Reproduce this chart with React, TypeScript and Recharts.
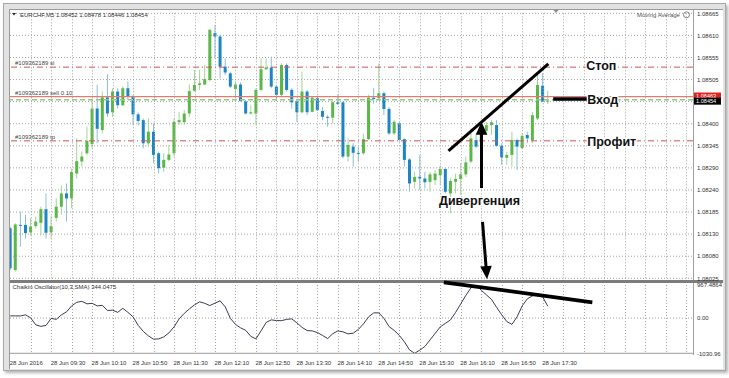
import React from "react";
import {
  ComposedChart,
  Bar,
  Line,
  XAxis,
  YAxis,
  CartesianGrid,
  ReferenceLine,
  ReferenceDot,
} from "recharts";

// ---------- DATA (EURCHF, M5, 28 Jun 2016, 08:50 .. 17:35) ----------
const opens = [
  1.08146, 1.08045, 1.08154, 1.08154, 1.08136, 1.08151, 1.08159, 1.08192, 1.08136, 1.08171,
  1.08198, 1.0823, 1.08218, 1.08278, 1.08307, 1.08327, 1.08349, 1.08435, 1.08383, 1.08462,
  1.08426, 1.08476, 1.08443, 1.08484, 1.08464, 1.08421, 1.08407, 1.08351, 1.08379, 1.08327,
  1.08292, 1.08311, 1.08327, 1.08402, 1.08402, 1.08423, 1.08478, 1.08492, 1.08493, 1.08504,
  1.08617, 1.08609, 1.08536, 1.0852, 1.08482, 1.08493, 1.08452, 1.08423, 1.08423, 1.0848,
  1.0853, 1.08534, 1.08488, 1.08468, 1.0854, 1.0848, 1.08452, 1.08426, 1.08476, 1.08427,
  1.0846, 1.08429, 1.08415, 1.08413, 1.0845, 1.0845, 1.08319, 1.08343, 1.08328, 1.08327,
  1.08361, 1.08461, 1.0846, 1.08472, 1.08434, 1.08375, 1.08399, 1.08361, 1.08312, 1.08258,
  1.0827, 1.08266, 1.08258, 1.08262, 1.08274, 1.08289, 1.0823, 1.08258, 1.08265, 1.08276,
  1.08307, 1.08359, 1.08359, 1.08381, 1.08395, 1.08395, 1.08345, 1.08316, 1.08323, 1.08359,
  1.0834, 1.08371, 1.08359, 1.08411, 1.0849, 1.08452,
];
const highs = [
  1.0815, 1.08158, 1.08186, 1.08178, 1.08171, 1.08174, 1.08198, 1.0823, 1.08176, 1.08218,
  1.08249, 1.08254, 1.0829, 1.08363, 1.08331, 1.08391, 1.08458, 1.08492, 1.08476, 1.08518,
  1.08484, 1.08484, 1.08489, 1.08501, 1.08468, 1.08426, 1.08411, 1.08411, 1.08399, 1.08331,
  1.08327, 1.08347, 1.08411, 1.08427, 1.08431, 1.08493, 1.08528, 1.08528, 1.0854, 1.08627,
  1.08637, 1.08613, 1.08556, 1.08524, 1.085, 1.08498, 1.08456, 1.08443, 1.08484, 1.08556,
  1.08556, 1.0856, 1.08492, 1.08544, 1.08544, 1.08484, 1.08456, 1.08524, 1.0848, 1.08464,
  1.08464, 1.08439, 1.08419, 1.08453, 1.08469, 1.08452, 1.08363, 1.08351, 1.08343, 1.08375,
  1.08468, 1.08485, 1.08544, 1.08476, 1.08439, 1.08407, 1.08403, 1.08363, 1.08315, 1.08282,
  1.08323, 1.08282, 1.08282, 1.08286, 1.08298, 1.08292, 1.08266, 1.08278, 1.08303, 1.08319,
  1.08387, 1.08371, 1.08397, 1.08403, 1.08407, 1.08407, 1.08351, 1.08331, 1.08379, 1.08363,
  1.08375, 1.08379, 1.08427, 1.08516, 1.0852, 1.08478,
];
const lows = [
  1.08045, 1.08041, 1.08101, 1.08121, 1.08128, 1.08146, 1.08128, 1.08121, 1.08121, 1.08162,
  1.08178, 1.08162, 1.08194, 1.08266, 1.08295, 1.08323, 1.08339, 1.08351, 1.08375, 1.08415,
  1.08415, 1.08435, 1.08441, 1.08456, 1.08395, 1.08394, 1.08339, 1.08343, 1.08303, 1.08278,
  1.08282, 1.08307, 1.08319, 1.08395, 1.08395, 1.08415, 1.08476, 1.0848, 1.08492, 1.085,
  1.08556, 1.08508, 1.08516, 1.08484, 1.0846, 1.08452, 1.08421, 1.08421, 1.08395, 1.08476,
  1.08528, 1.08484, 1.08453, 1.08464, 1.08476, 1.08435, 1.08403, 1.08423, 1.08419, 1.08426,
  1.08429, 1.08407, 1.08391, 1.08399, 1.08443, 1.08315, 1.08307, 1.08295, 1.08307, 1.08323,
  1.08359, 1.08447, 1.08456, 1.08419, 1.08371, 1.08371, 1.08355, 1.08295, 1.08234, 1.08242,
  1.08238, 1.08242, 1.08234, 1.0825, 1.0825, 1.0823, 1.08182, 1.0823, 1.08226, 1.0827,
  1.08303, 1.08339, 1.08355, 1.08371, 1.08371, 1.08343, 1.08299, 1.08299, 1.08295, 1.08287,
  1.08337, 1.08351, 1.08351, 1.08407, 1.0845, 1.08446,
];
const closes = [
  1.08049, 1.08155, 1.08152, 1.08134, 1.0815, 1.08162, 1.08192, 1.08135, 1.08151, 1.08198,
  1.0823, 1.08218, 1.08282, 1.08308, 1.08319, 1.08357, 1.08435, 1.08386, 1.08462, 1.08423,
  1.08476, 1.08443, 1.08484, 1.08464, 1.08421, 1.08405, 1.08351, 1.08379, 1.08323, 1.08291,
  1.08311, 1.08324, 1.08403, 1.08407, 1.08423, 1.08477, 1.08492, 1.08496, 1.08506, 1.08625,
  1.08609, 1.08536, 1.08522, 1.08488, 1.08493, 1.08453, 1.08423, 1.08426, 1.0848, 1.0853,
  1.08534, 1.08488, 1.08468, 1.0854, 1.0848, 1.0845, 1.08426, 1.08476, 1.08426, 1.08461,
  1.08431, 1.08415, 1.08413, 1.0845, 1.08446, 1.08319, 1.08347, 1.08328, 1.08327, 1.08361,
  1.08461, 1.08458, 1.08472, 1.08434, 1.08375, 1.08403, 1.08359, 1.08311, 1.08254, 1.0827,
  1.08266, 1.08257, 1.08276, 1.08278, 1.08289, 1.08234, 1.0826, 1.08265, 1.08276, 1.08305,
  1.08363, 1.08343, 1.08381, 1.08395, 1.08402, 1.08345, 1.08317, 1.08323, 1.08359, 1.08343,
  1.08369, 1.08363, 1.08419, 1.08492, 1.08452, 1.08454,
];
const chaikin = [
  64, 64, 64, 94, 6, -199, -243, -214, -9, -38,
  94, 182, 357, 460, 489, 416, 431, 357, 372, 220,
  231, 167, 284, 167, 35, -214, -390, -522, -618, -609,
  -551, -434, -258, -23, 138, 270, 387, 475, 431, 366,
  437, 504, 328, -9, -185, -287, -360, -536, -609, -375,
  -126, -53, -73, -76, -38, -23, -141, -272, -366, -375,
  -425, -507, -601, -457, -375, -404, -463, -442, -331, -170,
  35, 152, 152, -9, -249, -360, -507, -697, -932, -1030.96,
  -938, -829, -639, -448, -258, -155, -53, 167, 416, 665,
  885, 967.4864, 812, 680, 548, 314, 94, -103, -185, 35,
  357, 563, 650, 709, 621, 344.0475,
];

const priceTicks = [
  1.08665, 1.086117, 1.085583, 1.08505, 1.084517, 1.083983, 1.08345,
  1.082917, 1.082383, 1.08185, 1.081317, 1.080783, 1.08025,
];
const priceTickLabels = [
  "1.08665", "1.08610", "1.08555", "1.08505", "", "1.08400", "1.08345",
  "1.08290", "1.08240", "1.08185", "1.08130", "1.08080", "1.08025",
];
const oscTicks = [967.4864, 0, -1030.96];
const oscTickLabels = ["967.4864", "0.00", "-1030.96"];

const gridBars = [
  4, 8, 12, 16, 20, 24, 28, 32, 36, 40, 44, 48, 52, 56, 60, 64, 68, 72, 76, 80,
  84, 88, 92, 96, 100, 104, 108, 112, 116, 120, 124, 128, 132,
];
const timeTickBars = [0, 8, 16, 24, 32, 40, 48, 56, 64, 72, 80, 88, 96, 104];
const timeTickLabels = [
  "28 Jun 2016", "28 Jun 09:30", "28 Jun 10:10", "28 Jun 10:50", "28 Jun 11:30",
  "28 Jun 12:10", "28 Jun 12:50", "28 Jun 13:30", "28 Jun 14:10", "28 Jun 14:50",
  "28 Jun 15:30", "28 Jun 16:10", "28 Jun 16:50", "28 Jun 17:30",
];

const stopPrice = 1.08535;
const askPrice = 1.08464;
const orderPrice = 1.08456;
const tpPrice = 1.08357;
const bidPrice = 1.08454;

// annotations (bar index, price / oscillator value)
const trendTop = [{ bar: 85.6, price: 1.08333 }, { bar: 105.1, price: 1.08543 }];
const entryMark = [{ bar: 106.05, price: 1.08458 }, { bar: 112.65, price: 1.08458 }];
const arrowUp = [{ bar: 92.05, price: 1.08243 }, { bar: 92.05, price: 1.08403 }];
const arrowDown = [{ bar: 92.25, price: 1.08161 }, { bar: 93.13, price: 1.08023 }];
const oscTrend = [{ bar: 84.7, value: 1047 }, { bar: 113.7, value: 461 }];
const annoTexts = [
  { text: "Стоп", bar: 112.5, price: 1.0854 },
  { text: "Вход", bar: 112.7, price: 1.08458 },
  { text: "Профит", bar: 112.7, price: 1.08356 },
  { text: "Дивергенция", bar: 83.75, price: 1.08212 },
];

const candleData = opens.map((o, i) => ({
  bar: i,
  open: o,
  high: highs[i],
  low: lows[i],
  close: closes[i],
  range: [lows[i], highs[i]],
}));
const oscData = chaikin.map((v, i) => ({ bar: i, chaikin: v }));

// ---------- LAYOUT ----------
const X_DOMAIN: [number, number] = [-0.04, 133.36];
const PRICE_DOMAIN: [number, number] = [1.08025, 1.08665];
const OSC_DOMAIN: [number, number] = [-1030.96, 967.4864];
const FONT = "'Liberation Sans', Arial, sans-serif";
const SMALL = 6;
const GRID = "#a4a4a4";

function Candle(props: any) {
  const { x, y, width, height, payload } = props;
  if (x == null || !payload) return null;
  const { open, close, high, low } = payload;
  const up = close >= open;
  const top = Math.min(y, y + height);
  const h = Math.abs(height);
  const k = h / (high - low || 1e-9);
  const yO = top + (high - open) * k;
  const yC = top + (high - close) * k;
  const cx = x + width / 2;
  const bt = Math.min(yO, yC);
  const bh = Math.max(Math.abs(yO - yC), 1);
  return (
    <g>
      <line x1={cx} x2={cx} y1={top} y2={top + h} stroke={up ? "#a3d497" : "#8abdd9"} strokeWidth={1} />
      <rect x={cx - 1.5} y={bt} width={3} height={bh} fill={up ? "#5ab748" : "#1c86c5"} />
    </g>
  );
}

// vertical dotted grid line, snapped to whole pixels
function VGridShape(props: any) {
  const { x1, y1, y2 } = props;
  const x = Math.round(Number(x1)) + 0.5;
  const top = Math.min(Number(y1), Number(y2));
  const bottom = Math.max(Number(y1), Number(y2));
  return (
    <path
      d={`M${x},${top}V${bottom}`}
      stroke={GRID}
      strokeWidth={1}
      strokeDasharray="1 2"
      fill="none"
    />
  );
}

function nearestIndex(arr: number[], v: number) {
  let best = 0;
  for (let i = 1; i < arr.length; i++) if (Math.abs(arr[i] - v) < Math.abs(arr[best] - v)) best = i;
  return best;
}

function PriceTick(props: any) {
  const { y, payload } = props;
  const label = priceTickLabels[nearestIndex(priceTicks, payload.value)];
  if (!label) return null;
  return (
    <text x={687} y={y} dy={2.2} fontSize={SMALL} fill="#333" fontFamily={FONT}>
      {label}
    </text>
  );
}

function OscTick(props: any) {
  const { y, payload } = props;
  const label = oscTickLabels[nearestIndex(oscTicks, payload.value)];
  return (
    <text x={687} y={y} dy={2.2} fontSize={SMALL} fill="#333" fontFamily={FONT}>
      {label}
    </text>
  );
}

function TimeTick(props: any) {
  const { x, payload } = props;
  const i = timeTickBars.indexOf(payload.value);
  if (i < 0) return null;
  return (
    <text x={x - 0.5} y={85.5} fontSize={SMALL} fill="#333" fontFamily={FONT} textAnchor="start">
      {timeTickLabels[i]}
    </text>
  );
}

function ArrowShape(props: any) {
  const { x1, y1, x2, y2 } = props;
  const dx = x2 - x1;
  const dy = y2 - y1;
  const len = Math.sqrt(dx * dx + dy * dy) || 1;
  const ux = dx / len;
  const uy = dy / len;
  const hl = 13;
  const hw = 5.8;
  const bx = x2 - ux * hl;
  const by = y2 - uy * hl;
  const px = -uy;
  const py = ux;
  return (
    <g>
      <line x1={x1} y1={y1} x2={bx + ux * 2} y2={by + uy * 2} stroke="#000" strokeWidth={3} />
      <polygon
        points={`${x2},${y2} ${bx + px * hw},${by + py * hw} ${bx - px * hw},${by - py * hw}`}
        fill="#000"
      />
    </g>
  );
}

const orderLabel = (text: string) => (props: any) => {
  const vb = props.viewBox || {};
  return (
    <text x={(vb.x || 0) + 5} y={(vb.y || 0) - 2} fontSize={SMALL} fill="#444" fontFamily={FONT}>
      {text}
    </text>
  );
};

const axisBox = (text: string, color: string, boxTop: number, boxH: number, baseline: number) => (props: any) => {
  const vb = props.viewBox || {};
  const x = (vb.x || 0) + (vb.width || 0) + 1;
  const y = vb.y || 0;
  return (
    <g>
      <rect x={x} y={y + boxTop} width={27} height={boxH} fill={color} />
      <text x={x + 2} y={y + baseline} fontSize={5.6} fill="#fff" fontFamily={FONT}>
        {text}
      </text>
    </g>
  );
};

const annoLabel = (text: string) => (props: any) => {
  const vb = props.viewBox || {};
  return (
    <text
      x={(vb.x || 0) + 1}
      y={(vb.y || 0) + 1}
      dy={4.5}
      fontSize={12.5}
      fontWeight="bold"
      fontFamily={FONT}
      fill="#111"
      stroke="#fff"
      strokeWidth={2.5}
      strokeLinejoin="round"
      paintOrder="stroke"
    >
      {text}
    </text>
  );
};

export default function App() {
  return (
    <div
      style={{
        position: "absolute",
        left: 0,
        top: 0,
        width: 729,
        height: 378,
        background: "#fff",
        fontFamily: FONT,
        overflow: "hidden",
      }}
    >
      {/* window frame */}
      <div
        style={{
          position: "absolute",
          left: 3,
          top: 3,
          width: 721,
          height: 366,
          background: "#e2e2e2",
          border: "1px solid #a8a8a8",
          boxShadow: "2px 2px 3px rgba(0,0,0,0.3)",
        }}
      />
      <div
        style={{
          position: "absolute",
          left: 9,
          top: 9,
          width: 713,
          height: 359,
          background: "#fff",
          borderTop: "1px solid #9a9a9a",
          borderLeft: "1px solid #9a9a9a",
        }}
      />
      {/* price axis separator */}
      <div style={{ position: "absolute", left: 693, top: 10, width: 1, height: 345, background: "#a0a0a0" }} />
      {/* window separator */}
      <div style={{ position: "absolute", left: 10, top: 280, width: 713, height: 3, background: "#7c7c7c" }} />

      {/* main chart */}
      <div style={{ position: "absolute", left: 10, top: 10 }}>
        <ComposedChart
          width={712}
          height={272}
          data={candleData}
          margin={{ top: 3.3, right: 0, bottom: 3.7, left: 0 }}
        >
          <CartesianGrid stroke={GRID} strokeDasharray="1 2" vertical={false} />
          <XAxis dataKey="bar" type="number" domain={X_DOMAIN} hide allowDataOverflow />
          <YAxis
            orientation="right"
            width={29}
            domain={PRICE_DOMAIN}
            ticks={priceTicks}
            interval={0}
            tick={<PriceTick />}
            axisLine={false}
            tickLine={false}
            allowDataOverflow
          />
          {gridBars.map((b) => (
            <ReferenceLine
              key={`g${b}`}
              segment={[{ x: b, y: PRICE_DOMAIN[0] }, { x: b, y: PRICE_DOMAIN[1] }]}
              shape={VGridShape}
              ifOverflow="visible"
            />
          ))}
          <ReferenceLine y={stopPrice} stroke="#c9574f" strokeDasharray="6 3 1 3" label={orderLabel("#109362189 sl")} ifOverflow="visible" />
          <ReferenceLine y={askPrice} stroke="#e07a76" strokeWidth={1.2} label={axisBox("1.08463", "#e0201a", -4, 7, 1.2)} ifOverflow="visible" />
          <ReferenceLine y={orderPrice} stroke="#8fcd7f" strokeWidth={1.5} strokeDasharray="5 3" ifOverflow="visible" />
          <ReferenceLine y={askPrice} stroke="none" label={orderLabel("#109362189 sell 0.10")} ifOverflow="visible" />
          <ReferenceLine y={bidPrice} stroke="none" label={axisBox("1.08454", "#000", -3, 7, 2.8)} ifOverflow="visible" />
          <ReferenceLine y={tpPrice} stroke="#c9574f" strokeDasharray="6 3 1 3" label={orderLabel("#109362189 tp")} ifOverflow="visible" />
          <Bar dataKey="range" barSize={3} shape={<Candle />} isAnimationActive={false} />
          <ReferenceLine
            segment={[{ x: trendTop[0].bar, y: trendTop[0].price }, { x: trendTop[1].bar, y: trendTop[1].price }]}
            stroke="#000"
            strokeWidth={3}
            ifOverflow="visible"
          />
          <ReferenceLine
            segment={[{ x: entryMark[0].bar, y: entryMark[0].price }, { x: entryMark[1].bar, y: entryMark[1].price }]}
            stroke="#000"
            strokeWidth={3.5}
            ifOverflow="visible"
          />
          <ReferenceLine
            segment={[{ x: arrowUp[0].bar, y: arrowUp[0].price }, { x: arrowUp[1].bar, y: arrowUp[1].price }]}
            shape={ArrowShape}
            ifOverflow="visible"
          />
          <ReferenceLine
            segment={[{ x: arrowDown[0].bar, y: arrowDown[0].price }, { x: arrowDown[1].bar, y: arrowDown[1].price }]}
            shape={ArrowShape}
            ifOverflow="visible"
          />
          {annoTexts.map((a) => (
            <ReferenceDot
              key={a.text}
              x={a.bar}
              y={a.price}
              r={1}
              fill="none"
              stroke="none"
              label={annoLabel(a.text)}
              ifOverflow="visible"
            />
          ))}
        </ComposedChart>
      </div>

      {/* oscillator */}
      <div style={{ position: "absolute", left: 10, top: 279 }}>
        <ComposedChart
          width={712}
          height={90}
          data={oscData}
          margin={{ top: 6, right: 0, bottom: 0, left: 0 }}
        >
          <CartesianGrid stroke={GRID} strokeDasharray="1 2" vertical={false} horizontalValues={[0]} />
          <XAxis
            dataKey="bar"
            type="number"
            domain={X_DOMAIN}
            ticks={timeTickBars}
            interval={0}
            height={15.7}
            tick={<TimeTick />}
            tickLine={false}
            axisLine={{ stroke: "#9a9a9a" }}
            allowDataOverflow
          />
          <YAxis
            orientation="right"
            width={29}
            domain={OSC_DOMAIN}
            ticks={oscTicks}
            interval={0}
            tick={<OscTick />}
            axisLine={false}
            tickLine={false}
            allowDataOverflow
          />
          {gridBars.map((b) => (
            <ReferenceLine
              key={`og${b}`}
              segment={[{ x: b, y: OSC_DOMAIN[0] }, { x: b, y: OSC_DOMAIN[1] }]}
              shape={VGridShape}
              ifOverflow="visible"
            />
          ))}
          <Line dataKey="chaikin" stroke="#3b3b5a" strokeWidth={1} dot={false} isAnimationActive={false} />
          <ReferenceLine
            segment={[{ x: oscTrend[0].bar, y: oscTrend[0].value }, { x: oscTrend[1].bar, y: oscTrend[1].value }]}
            stroke="#000"
            strokeWidth={3.8}
            ifOverflow="visible"
          />
        </ComposedChart>
      </div>

      {/* chart captions */}
      <svg style={{ position: "absolute", left: 0, top: 0 }} width={729} height={378}>
        <polygon points="12,13 16,13 14,15.5" fill="#222" />
        <text x={20} y={16.5} fontSize={SMALL} fill="#333" fontFamily={FONT}>
          EURCHF,M5  1.08452 1.08478 1.08446 1.08454
        </text>
        <text x={637} y={16.5} fontSize={SMALL} fill="#555" fontFamily={FONT}>
          Moving Average
        </text>
        <circle cx={686.5} cy={14.8} r={3} fill="none" stroke="#666" strokeWidth={0.8} />
        <polygon points="553.5,10 558.5,10 556,13" fill="#8a8a8a" />
        <text x={12.5} y={289.3} fontSize={SMALL} fill="#333" fontFamily={FONT}>
          Chaikin Oscillator(10,3,SMA) 344.0475
        </text>
      </svg>
    </div>
  );
}
